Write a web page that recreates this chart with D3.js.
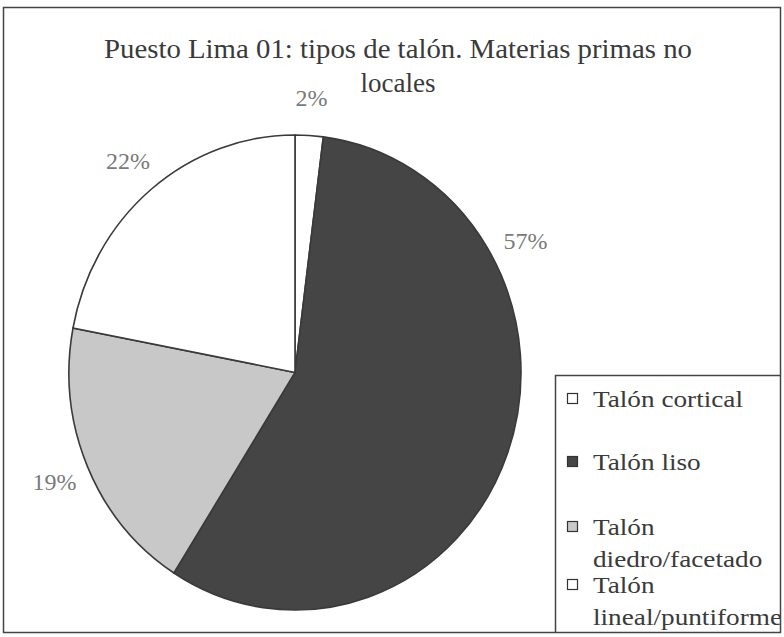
<!DOCTYPE html>
<html>
<head>
<meta charset="utf-8">
<script src="https://cdnjs.cloudflare.com/ajax/libs/d3/7.8.5/d3.min.js"></script>
<style>
  body { margin: 0; background: #fff; }
</style>
</head>
<body>
<div class="chart"></div>
<script>
// data
var categories = ["Talón cortical", "Talón liso", "Talón diedro/facetado", "Talón lineal/puntiforme"];
var percents = [2, 57, 19, 22];
var legendLines = [["Talón cortical"], ["Talón liso"], ["Talón", "diedro/facetado"], ["Talón", "lineal/puntiforme"]];
var titleLines = ["Puesto Lima 01: tipos de talón. Materias primas no", "locales"];

var fills = ["#ffffff", "#454545", "#c8c8c8", "#ffffff"];
var serif = "Liberation Serif";

var svg = d3.select(".chart")
  .append("svg")
  .attr("width", 784)
  .attr("height", 637);

var defs = svg.append("defs");
defs.append("clipPath").attr("id", "frameClip")
  .append("rect")
  .attr("x", 3).attr("y", 7)
  .attr("width", 778).attr("height", 626);

var chartGroup = svg.append("g").attr("clip-path", "url(#frameClip)");

// pie (the scan is a little taller than wide)
var cx = 295, cy = 372.5, rx = 226, ry = 237.5;

var pie = d3.pie().sort(null).value(d => d);
var arcs = pie(percents);
var arc = d3.arc().innerRadius(0).outerRadius(rx);

var pieGroup = chartGroup.append("g")
  .attr("transform", `translate(${cx}, ${cy}) scale(1, ${ry / rx})`);

pieGroup.selectAll("path.slice")
  .data(arcs)
  .enter()
  .append("path")
  .attr("class", "slice")
  .attr("d", arc)
  .attr("fill", (d, i) => fills[i])
  .attr("stroke", "#3a3a3a")
  .attr("stroke-width", 1.6)
  .attr("vector-effect", "non-scaling-stroke");

// percent labels, around the pie (Excel pushed the big one up)
var labelRadius = 1.16;
var labelAngleOverride = { 1: 61.5 * Math.PI / 180 };

function labelAngle(d, i) {
  return labelAngleOverride[i] !== undefined ? labelAngleOverride[i] : (d.startAngle + d.endAngle) / 2;
}

chartGroup.selectAll(".pctLabel")
  .data(arcs)
  .enter()
  .append("text")
  .attr("class", "pctLabel")
  .attr("x", (d, i) => cx + rx * labelRadius * Math.sin(labelAngle(d, i)))
  .attr("y", (d, i) => cy - ry * labelRadius * Math.cos(labelAngle(d, i)))
  .attr("dy", "0.35em")
  .attr("text-anchor", "middle")
  .attr("font-family", serif)
  .attr("font-size", 24)
  .attr("fill", "#7a7a7a")
  .text(d => d.data + "%");

// title
var title = chartGroup.append("g");
title.append("text")
  .attr("x", 398)
  .attr("y", 58)
  .attr("text-anchor", "middle")
  .attr("font-family", serif)
  .attr("font-size", 27)
  .attr("fill", "#3a3a3a")
  .attr("textLength", 588)
  .attr("lengthAdjust", "spacingAndGlyphs")
  .text(titleLines[0]);
title.append("text")
  .attr("x", 398)
  .attr("y", 92)
  .attr("text-anchor", "middle")
  .attr("font-family", serif)
  .attr("font-size", 27)
  .attr("fill", "#3a3a3a")
  .text(titleLines[1]);

// legend
var legendGroup = chartGroup.append("g");
legendGroup.append("rect")
  .attr("x", 555.5).attr("y", 375.5)
  .attr("width", 260).attr("height", 300)
  .attr("fill", "#fff")
  .attr("stroke", "#444")
  .attr("stroke-width", 1.5);

var legendBaselines = [407, 470, 535, 593];
var lineStep = 32;

var items = legendGroup.selectAll(".legendItem")
  .data(categories)
  .enter()
  .append("g")
  .attr("class", "legendItem")
  .attr("transform", (d, i) => `translate(567, ${legendBaselines[i]})`);

items.append("rect")
  .attr("x", 0.5).attr("y", -13.5)
  .attr("width", 10).attr("height", 10)
  .attr("fill", (d, i) => fills[i])
  .attr("stroke", "#333")
  .attr("stroke-width", 1.2);

var legendTexts = [];
items.each(function(d, i) {
  var g = d3.select(this);
  legendLines[i].forEach(function(line, j) {
    var t = g.append("text")
      .attr("x", 26)
      .attr("y", j * lineStep)
      .attr("font-family", serif)
      .attr("font-size", 23)
      .attr("fill", "#3a3a3a")
      .text(line);
    legendTexts.push(t);
  });
});

// the scanned font runs wider than Times: "Talón cortical" is about 150px wide
var stretch = 150 / legendTexts[0].node().getComputedTextLength();
legendTexts.forEach(function(t) {
  var w = t.node().getComputedTextLength();
  t.attr("textLength", w * stretch).attr("lengthAdjust", "spacingAndGlyphs");
});

// outer frame
svg.append("rect")
  .attr("x", 3.5).attr("y", 7.5)
  .attr("width", 777).attr("height", 625)
  .attr("fill", "none")
  .attr("stroke", "#444")
  .attr("stroke-width", 1.5);
</script>
</body>
</html>
